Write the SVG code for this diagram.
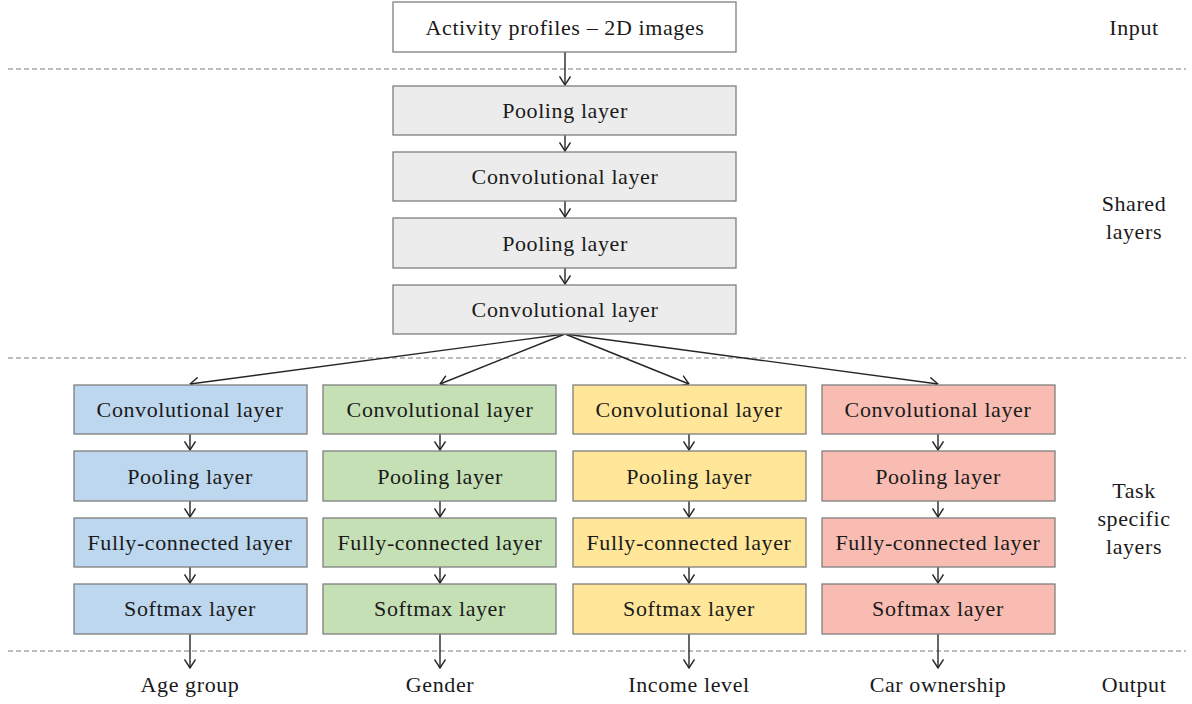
<svg xmlns="http://www.w3.org/2000/svg" width="1192" height="704" viewBox="0 0 1192 704">
<style>
  .box{stroke:#7f7f7f;stroke-width:1.3}
  .in{fill:#ffffff}
  .sh{fill:#ececec}
  .b{fill:#bdd7ee}
  .g{fill:#c5e0b4}
  .y{fill:#ffe699}
  .r{fill:#f8bcb2}
  text{font-family:"Liberation Serif","DejaVu Serif",serif;font-size:22px;letter-spacing:0.6px;fill:#1a1a1a;text-anchor:middle;dominant-baseline:central}
  .dash{stroke:#7f7f7f;stroke-width:1.2;stroke-dasharray:5 3;fill:none}
  .con line{stroke:#262626;stroke-width:1.4;marker-end:url(#arr)}
</style>
<defs>
  <marker id="arr" viewBox="0 0 10 12" refX="9.5" refY="6" markerWidth="10" markerHeight="12" markerUnits="userSpaceOnUse" orient="auto">
    <polyline points="1,0.5 9.5,6 1,11.5" fill="none" stroke="#262626" stroke-width="1.4"/>
  </marker>
</defs>
<rect width="1192" height="704" fill="#ffffff"/>
<g id="separators">
  <line class="dash" x1="8" y1="69" x2="1186" y2="69"/>
  <line class="dash" x1="8" y1="358" x2="1186" y2="358"/>
  <line class="dash" x1="8" y1="651" x2="1186" y2="651"/>
</g>
<g id="connectors" class="con">
  <line x1="565" y1="52" x2="565" y2="85"/>
  <line x1="565" y1="135" x2="565" y2="151"/>
  <line x1="565" y1="201" x2="565" y2="217"/>
  <line x1="565" y1="268" x2="565" y2="284"/>
  <line x1="565" y1="334" x2="190" y2="384"/>
  <line x1="565" y1="334" x2="440" y2="384"/>
  <line x1="565" y1="334" x2="689" y2="384"/>
  <line x1="565" y1="334" x2="938" y2="384"/>
  <line x1="190" y1="434" x2="190" y2="450"/>
  <line x1="190" y1="501" x2="190" y2="517"/>
  <line x1="190" y1="567" x2="190" y2="583"/>
  <line x1="190" y1="634" x2="190" y2="668"/>
  <line x1="440" y1="434" x2="440" y2="450"/>
  <line x1="440" y1="501" x2="440" y2="517"/>
  <line x1="440" y1="567" x2="440" y2="583"/>
  <line x1="440" y1="634" x2="440" y2="668"/>
  <line x1="689" y1="434" x2="689" y2="450"/>
  <line x1="689" y1="501" x2="689" y2="517"/>
  <line x1="689" y1="567" x2="689" y2="583"/>
  <line x1="689" y1="634" x2="689" y2="668"/>
  <line x1="938" y1="434" x2="938" y2="450"/>
  <line x1="938" y1="501" x2="938" y2="517"/>
  <line x1="938" y1="567" x2="938" y2="583"/>
  <line x1="938" y1="634" x2="938" y2="668"/>
</g>
<g id="input"><rect class="box in" x="393" y="2" width="343" height="50"/><text x="565" y="27">Activity profiles – 2D images</text></g>
<g id="shared1"><rect class="box sh" x="393" y="86" width="343" height="49"/><text x="565" y="110">Pooling layer</text></g>
<g id="shared2"><rect class="box sh" x="393" y="152" width="343" height="49"/><text x="565" y="176">Convolutional layer</text></g>
<g id="shared3"><rect class="box sh" x="393" y="218" width="343" height="50"/><text x="565" y="243">Pooling layer</text></g>
<g id="shared4"><rect class="box sh" x="393" y="285" width="343" height="49"/><text x="565" y="309">Convolutional layer</text></g>

<g id="age-conv"><rect class="box b" x="74" y="385" width="233" height="49"/><text x="190" y="409">Convolutional layer</text></g>
<g id="age-pool"><rect class="box b" x="74" y="451" width="233" height="50"/><text x="190" y="476">Pooling layer</text></g>
<g id="age-fc"><rect class="box b" x="74" y="518" width="233" height="49"/><text x="190" y="542">Fully-connected layer</text></g>
<g id="age-soft"><rect class="box b" x="74" y="584" width="233" height="50"/><text x="190" y="608">Softmax layer</text></g>

<g id="gender-conv"><rect class="box g" x="323" y="385" width="233" height="49"/><text x="440" y="409">Convolutional layer</text></g>
<g id="gender-pool"><rect class="box g" x="323" y="451" width="233" height="50"/><text x="440" y="476">Pooling layer</text></g>
<g id="gender-fc"><rect class="box g" x="323" y="518" width="233" height="49"/><text x="440" y="542">Fully-connected layer</text></g>
<g id="gender-soft"><rect class="box g" x="323" y="584" width="233" height="50"/><text x="440" y="608">Softmax layer</text></g>

<g id="income-conv"><rect class="box y" x="573" y="385" width="233" height="49"/><text x="689" y="409">Convolutional layer</text></g>
<g id="income-pool"><rect class="box y" x="573" y="451" width="233" height="50"/><text x="689" y="476">Pooling layer</text></g>
<g id="income-fc"><rect class="box y" x="573" y="518" width="233" height="49"/><text x="689" y="542">Fully-connected layer</text></g>
<g id="income-soft"><rect class="box y" x="573" y="584" width="233" height="50"/><text x="689" y="608">Softmax layer</text></g>

<g id="car-conv"><rect class="box r" x="822" y="385" width="233" height="49"/><text x="938" y="409">Convolutional layer</text></g>
<g id="car-pool"><rect class="box r" x="822" y="451" width="233" height="50"/><text x="938" y="476">Pooling layer</text></g>
<g id="car-fc"><rect class="box r" x="822" y="518" width="233" height="49"/><text x="938" y="542">Fully-connected layer</text></g>
<g id="car-soft"><rect class="box r" x="822" y="584" width="233" height="50"/><text x="938" y="608">Softmax layer</text></g>

<g id="outputs">
  <text x="190" y="684">Age group</text>
  <text x="440" y="684">Gender</text>
  <text x="689" y="684">Income level</text>
  <text x="938" y="684">Car ownership</text>
</g>
<g id="side-labels">
  <text x="1134" y="27">Input</text>
  <text x="1134" y="203">Shared</text>
  <text x="1134" y="231">layers</text>
  <text x="1134" y="490">Task</text>
  <text x="1134" y="518">specific</text>
  <text x="1134" y="546">layers</text>
  <text x="1134" y="684">Output</text>
</g>
</svg>
